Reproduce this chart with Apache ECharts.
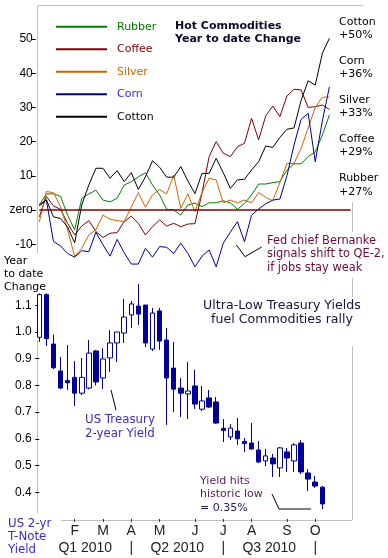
<!DOCTYPE html>
<html><head><meta charset="utf-8">
<script src="https://cdn.jsdelivr.net/npm/echarts@6/dist/echarts.min.js"></script>
<style>html,body{margin:0;padding:0;background:#fff}#c{width:388px;height:558px}</style>
</head><body><div id="c"></div>
<script>
// ---- data ----
const weekCount = 45;
const monthLabels = ['F','M','A','M','J','J','A','S','O'];
const monthIdx = [5,9,13,17,22,26,30,35,39];
const quarterLabels = ['Q1 2010','|','Q2 2010','|','Q3 2010','|'];
const quarterPos = [6.5,13,19.5,26,32.5,39];

const rubber = [1.5,4.7,4.7,4,-1.5,-5.8,3.4,4.7,5.8,2.9,2.4,3.4,7.3,8.3,9.7,10.9,7.3,4.4,0.2,0,-1.5,1.5,2.0,1.0,2.1,2.1,2.7,2.1,0.2,1.9,4.4,7.6,7.6,8.0,8.3,11.7,13.5,13.5,15.6,17,21.9,27.8];
const coffee = [-2,4,1.2,0.2,-3.9,-7.3,-4.7,-3.1,-6.3,-8.0,-6.8,-6.6,-3.4,-1.8,-3.9,-7.3,-4.9,-2.9,-4.7,-3.9,-4.9,-4.1,-4.0,5,15.6,20.0,16.6,15.6,18.5,19.5,26.8,20.5,27.5,30.4,27.3,33.3,35.3,35.1,30.0,30.2,30.7,29.4];
const silver = [-3.5,5.4,5.1,1.0,-5.8,-13.6,-11.2,-7.3,-5.8,-1.5,-2.7,-3.1,-3.4,0.8,5.1,0.8,4.4,6.0,4.7,10.2,0.5,4.7,-0.5,5.1,9.3,8.8,2.1,2.9,2.1,2.9,2.1,5.1,3.7,2.7,8,13.6,13.6,18,24,30,33,33];
const corn = [1.2,2.9,-9.2,-10.5,-12.7,-13.8,-11.9,-12.2,-6.5,-10.2,-13.5,-8.6,-12.5,-15.8,-15.8,-11.2,-13.8,-10.7,-10.9,-12.7,-9.7,-12.7,-16.6,-13.5,-11.7,-16.6,-9.7,-6.5,-3.4,-9.3,-1.5,0.3,1.8,2.9,3.2,10,19,26.5,28.3,14.1,26,36];
const cotton = [1.5,3,-2,-2.5,-5,-9.6,1.5,7.3,12.2,12.2,9.3,11.5,8.3,10.9,6.0,9.7,14.4,12.5,9.6,9.6,12.7,8.5,4.8,10.7,10.7,15.1,10.9,6.3,8.8,9.0,11.7,14.1,18.7,18.3,21.2,23.6,24,32,37.8,36.5,45.8,50.2];

const yOpen  = [0.98,1.14,0.955,0.854,0.818,0.83,0.771,0.79,0.929,0.828,0.903,0.959,0.996,1.064,1.097,1.101,0.936,1.079,0.97,0.865,0.79,0.768,0.798,0.711,0.753,0.738,0.639,0.607,0.629,0.59,0.584,0.558,0.517,0.528,0.491,0.551,0.517,0.584,0.472,0.438,0.419];
const yClose = [1.14,0.975,0.866,0.79,0.81,0.771,0.83,0.921,0.813,0.899,0.959,1.0,1.056,1.105,1.067,0.959,1.071,0.966,0.828,0.786,0.771,0.779,0.73,0.742,0.719,0.659,0.631,0.64,0.60,0.582,0.562,0.513,0.536,0.506,0.566,0.528,0.577,0.476,0.449,0.423,0.356];
const yLow   = [0.963,0.948,0.861,0.786,0.783,0.723,0.764,0.785,0.80,0.786,0.85,0.888,0.959,1.015,1.026,0.944,0.929,0.933,0.652,0.70,0.682,0.674,0.712,0.704,0.715,0.655,0.588,0.595,0.577,0.55,0.558,0.509,0.498,0.457,0.457,0.476,0.476,0.468,0.404,0.416,0.337];
const yHigh  = [1.145,1.145,0.99,0.906,0.951,0.891,0.903,0.97,0.933,0.94,1.007,1.0,1.124,1.116,1.18,1.101,1.09,1.09,1.015,0.963,0.828,0.888,0.858,0.798,0.783,0.757,0.674,0.655,0.678,0.603,0.659,0.592,0.562,0.543,0.569,0.566,0.584,0.595,0.487,0.461,0.423];

// ---- build ----
const weeks = Array.from({length: weekCount}, (_, i) => 'w' + i);
const monthMap = {}; monthIdx.forEach((k, j) => monthMap[k] = monthLabels[j]);
const qMap = {}; quarterPos.forEach((k, j) => qMap[k] = quarterLabels[j]);
const candles = yOpen.map((o, i) => [o, yClose[i], yLow[i], yHigh[i]]);

const GRAY = '#c0c0c0';
const FONT = '11px "DejaVu Sans"';
function txt(x, yc, text, fill, font, lh, align) {
  return {type: 'text', x: x, y: yc - lh / 2, silent: true,
    style: {text: text, fill: fill, font: font || FONT, lineHeight: lh, verticalAlign: 'top', align: align || 'left'}};
}
function ln(x1, y1, x2, y2, c) {
  return {type: 'line', silent: true, shape: {x1, y1, x2, y2}, style: {stroke: c || GRAY, lineWidth: 1}};
}
function pl(points) {
  return {type: 'polyline', silent: true, shape: {points}, style: {stroke: '#000', lineWidth: 1, fill: null}};
}

const names = ['Rubber','Coffee','Silver','Corn','Cotton'];
const colors = ['#008000','#800000','#cc6600','#000099','#000000'];
const textColors = ['#008000','#800000','#cc6600','#3030cc','#000000'];
const vals = [rubber, coffee, silver, corn, cotton];
const F12 = '12px "DejaVu Sans"';

const chart = echarts.init(document.getElementById('c'), null, {renderer: 'canvas'});
chart.setOption({
  animation: false,
  backgroundColor: '#fff',
  grid: [
    {left: 35.76, top: 4.8, width: 318.4, height: 239.4},
    {left: 35.76, top: 278.6, width: 318.4, height: 240.3}
  ],
  legend: {
    orient: 'vertical', left: 56, top: 19.7, padding: 0, itemWidth: 51, itemHeight: 2, itemGap: 8.5,
    icon: 'rect', selectedMode: false,
    textStyle: {fontFamily: 'DejaVu Sans', fontSize: 11, lineHeight: 14, padding: [0, 0, 0, 5]},
    data: names.map((n, i) => ({name: n, textStyle: {color: textColors[i]}}))
  },
  xAxis: [
    {type: 'category', gridIndex: 0, data: weeks, boundaryGap: true, show: false},
    {type: 'category', gridIndex: 1, data: weeks, boundaryGap: true, position: 'bottom',
      axisLine: {show: false},
      axisTick: {show: true, alignWithLabel: true, length: 3, interval: (i) => monthMap[i] !== undefined, lineStyle: {color: '#333'}},
      axisLabel: {interval: (i) => monthMap[i] !== undefined, formatter: (v, i) => monthMap[i] || '',
        fontFamily: 'Liberation Sans', fontSize: 14, color: '#222', margin: 5},
      splitLine: {show: false}},
    {type: 'value', gridIndex: 1, min: -0.5, max: 44.5, position: 'bottom', offset: 18,
      axisLine: {show: false}, axisTick: {show: false}, splitLine: {show: false},
      axisLabel: {customValues: quarterPos, formatter: (v) => qMap[v] || '',
        fontFamily: 'Liberation Sans', fontSize: 14, color: '#222', margin: 4}}
  ],
  yAxis: [
    {type: 'value', gridIndex: 0, min: -10, max: 60, interval: 10,
      axisLine: {show: false}, splitLine: {show: false},
      axisTick: {show: true, length: 4, lineStyle: {color: '#000'}, customValues: [-10,0,10,20,30,40,50]},
      axisLabel: {showMaxLabel: false, formatter: (v) => v === 0 ? 'zero' : String(v),
        fontFamily: 'Liberation Sans', fontSize: 12, color: '#000', margin: 3}},
    {type: 'value', gridIndex: 1, min: 0.3, max: 1.2, interval: 0.1,
      axisLine: {show: false}, splitLine: {show: false},
      axisTick: {show: true, length: 4, lineStyle: {color: '#000'}, customValues: [0.4,0.5,0.6,0.7,0.8,0.9,1.0,1.1]},
      axisLabel: {showMinLabel: false, showMaxLabel: false, formatter: (v) => v.toFixed(1),
        fontFamily: 'Liberation Sans', fontSize: 12, color: '#000', margin: 4}}
  ],
  series: names.map((n, i) => ({
    name: n, type: 'line', xAxisIndex: 0, yAxisIndex: 0, data: vals[i],
    symbol: 'none', clip: false, color: colors[i],
    lineStyle: {width: 1, color: colors[i]}, silent: true,
    markLine: i === 1 ? {symbol: 'none', silent: true, label: {show: false},
      lineStyle: {color: '#800000', width: 1.5, type: 'solid'},
      data: [[{coord: [0, 0]}, {coord: [44, 0]}]]} : undefined
  })).concat([{
    name: 'US 2-yr', type: 'candlestick', xAxisIndex: 1, yAxisIndex: 1, data: candles,
    barWidth: 5, silent: true,
    itemStyle: {color: '#ffffff', color0: '#000099', borderColor: '#000099', borderColor0: '#000099', borderWidth: 1}
  }]),
  graphic: [
    ln(37, 5.5, 363, 5.5), ln(37.5, 5, 37.5, 253), ln(37.5, 340, 37.5, 513),
    ln(61, 520.5, 352, 520.5), ln(352.5, 202, 352.5, 232), ln(352.5, 278, 352.5, 297), ln(352.5, 346, 352.5, 520),
    txt(175, 26, 'Hot Commodities\nYear to date Change', '#0a0a2a', 'bold 11px "DejaVu Sans"', 13),
    txt(339, 22, 'Cotton\n+50%', '#000', FONT, 13.5),
    txt(339, 61, 'Corn\n+36%', '#000', FONT, 13.5),
    txt(339, 100, 'Silver\n+33%', '#000', FONT, 13.5),
    txt(339, 139, 'Coffee\n+29%', '#000', FONT, 13.5),
    txt(339, 178.5, 'Rubber\n+27%', '#000', FONT, 13.5),
    txt(267, 241, 'Fed chief Bernanke\nsignals shift to QE-2,\nif jobs stay weak', '#6a0a3a', '11.4px "DejaVu Sans"', 13.3),
    pl([[236.5, 245], [245, 256.7], [261.7, 247]]),
    txt(4, 261.5, 'Year\nto date\nChange', '#000', FONT, 13),
    txt(282, 306, 'Ultra-Low Treasury Yields\nfuel Commodities rally', '#141440', '12.6px "DejaVu Sans"', 14, 'center'),
    txt(85, 420, 'US Treasury\n2-year Yield', '#3a2fc0', '11.8px "DejaVu Sans"', 13.5),
    pl([[111, 390], [116, 410]]),
    {type: 'text', x: 200, y: 481 - 6.75, silent: true, style: {
      text: '{a|Yield hits}\n{a|historic low}\n{b|= 0.35%}', verticalAlign: 'top', lineHeight: 13.5, font: FONT,
      rich: {a: {fill: '#5a1a5a', font: FONT, lineHeight: 13.5}, b: {fill: '#1a1a66', font: FONT, lineHeight: 13.5}}}},
    pl([[272, 494], [279, 509], [311, 509]]),
    txt(8, 524, 'US 2-yr\nT-Note\nYield', '#3a2fc0', '11.8px "DejaVu Sans"', 13)
  ]
});
</script></body></html>
